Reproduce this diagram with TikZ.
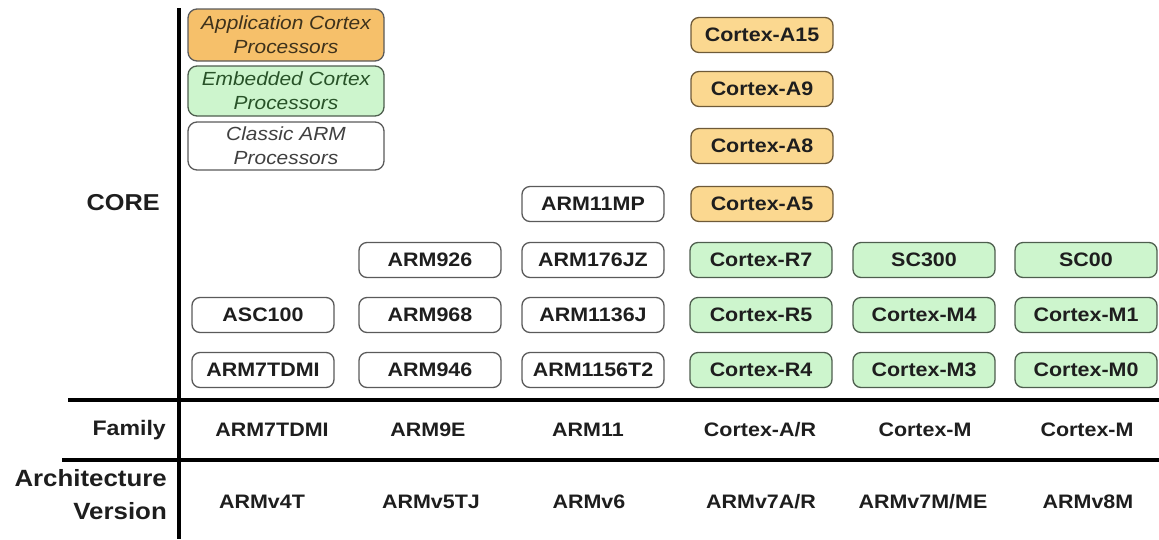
\documentclass[tikz,border=0pt]{standalone}
\usepackage{fontspec}
\setmainfont[FakeStretch=1.1]{Liberation Sans}
\definecolor{appfill}{HTML}{F6C06A}
\definecolor{afill}{HTML}{FBD890}
\definecolor{abord}{HTML}{6E5A38}
\definecolor{gfill}{HTML}{CDF5CD}
\definecolor{gbord}{HTML}{4E5E4E}
\definecolor{cbord}{HTML}{5A5A5A}
\definecolor{apptext}{HTML}{3E321C}
\definecolor{embtext}{HTML}{285228}
\definecolor{clatext}{HTML}{404040}
\definecolor{ink}{HTML}{1E1E1E}
\tikzset{
  core/.style={draw=cbord, line width=1.3pt, rounded corners=8pt, fill=white,
    minimum width=142pt, minimum height=35pt, inner sep=0pt, text=ink,
    font=\fontsize{19.5}{22}\selectfont\bfseries},
  abox/.style={core, fill=afill, draw=abord},
  gbox/.style={core, fill=gfill, draw=gbord},
  legend/.style={draw=cbord, line width=1.3pt, rounded corners=9pt,
    minimum width=196pt, inner sep=0pt, align=center,
    font=\fontsize{19}{24}\selectfont\itshape},
  lab/.style={font=\fontsize{19.5}{22}\selectfont\bfseries, text=ink, inner sep=0pt},
  side/.style={font=\fontsize{23.5}{33}\selectfont\bfseries, text=ink, inner sep=0pt, align=right},
  rule/.style={line width=4pt, draw=black}
}
\begin{document}
\begin{tikzpicture}[x=1pt,y=-1pt]
\useasboundingbox (0,0) rectangle (1159,539);
% axes
\coordinate (vt) at (179,8);
\coordinate (vb) at (179,539);
\coordinate (h1l) at (68,400);
\coordinate (h1r) at (1159,400);
\coordinate (h2l) at (62,460);
\coordinate (h2r) at (1159,460);
\draw[rule] (vt) -- (vb);
\draw[rule] (h1l) -- (h1r);
\draw[rule] (h2l) -- (h2r);
% legend
\node[legend, fill=appfill, minimum height=52pt, text=apptext] (lapp) at (286,35) {Application Cortex\\Processors};
\node[legend, fill=gfill, draw=gbord, minimum height=50pt, text=embtext] (lemb) at (286,91) {Embedded Cortex\\Processors};
\node[legend, fill=white, minimum height=48pt, text=clatext] (lcla) at (286,146) {Classic ARM\\Processors};
% side labels
\node[side, anchor=east, font=\fontsize{23}{28}\selectfont\bfseries] (core) at (160,203) {CORE};
\node[side, anchor=east, font=\fontsize{21}{26}\selectfont\bfseries] (fam) at (166,430) {Family};
\node[side, anchor=east] (arch) at (167,495) {Architecture\\Version};
% column 1
\node[core] (arm7) at (263,370) {ARM7TDMI};
\node[core] (asc) at (263,315) {ASC100};
% column 2
\node[core] (arm946) at (430,370) {ARM946};
\node[core] (arm968) at (430,315) {ARM968};
\node[core] (arm926) at (430,260) {ARM926};
% column 3
\node[core] (arm1156) at (593,370) {ARM1156T2};
\node[core] (arm1136) at (593,315) {ARM1136J};
\node[core] (arm176) at (593,260) {ARM176JZ};
\node[core] (arm11mp) at (593,204) {ARM11MP};
% column 4
\node[gbox] (r4) at (761,370) {Cortex-R4};
\node[gbox] (r5) at (761,315) {Cortex-R5};
\node[gbox] (r7) at (761,260) {Cortex-R7};
\node[abox] (a5) at (762,204) {Cortex-A5};
\node[abox] (a8) at (762,146) {Cortex-A8};
\node[abox] (a9) at (762,89) {Cortex-A9};
\node[abox] (a15) at (762,35) {Cortex-A15};
% column 5
\node[gbox] (m3) at (924,370) {Cortex-M3};
\node[gbox] (m4) at (924,315) {Cortex-M4};
\node[gbox] (sc300) at (924,260) {SC300};
% column 6
\node[gbox] (m0) at (1086,370) {Cortex-M0};
\node[gbox] (m1) at (1086,315) {Cortex-M1};
\node[gbox] (sc00) at (1086,260) {SC00};
% family row
\node[lab] (f1) at (272,430) {ARM7TDMI};
\node[lab] (f2) at (428,430) {ARM9E};
\node[lab] (f3) at (588,430) {ARM11};
\node[lab] (f4) at (760,430) {Cortex-A/R};
\node[lab] (f5) at (925,430) {Cortex-M};
\node[lab] (f6) at (1087,430) {Cortex-M};
% architecture row
\node[lab] (v1) at (262,502) {ARMv4T};
\node[lab] (v2) at (431,502) {ARMv5TJ};
\node[lab] (v3) at (589,502) {ARMv6};
\node[lab] (v4) at (761,502) {ARMv7A/R};
\node[lab] (v5) at (923,502) {ARMv7M/ME};
\node[lab] (v6) at (1088,502) {ARMv8M};
\end{tikzpicture}
\end{document}
